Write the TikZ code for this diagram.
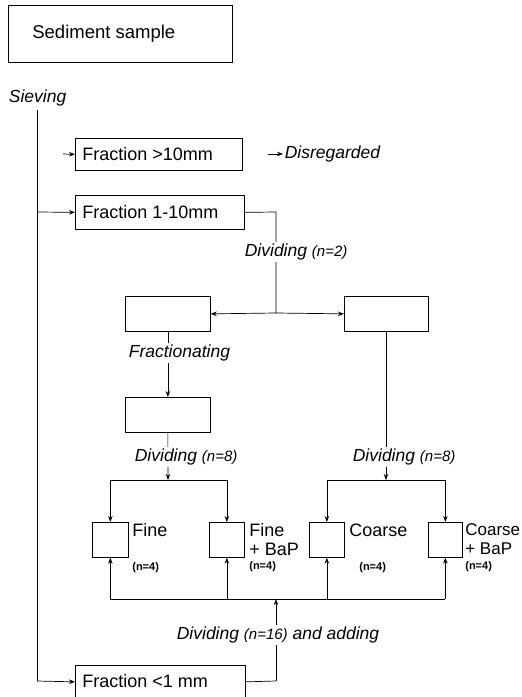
\documentclass[tikz,border=0pt]{standalone}
\usepackage{fontspec}
\setmainfont{Liberation Sans}
\usetikzlibrary{arrows.meta}
\newcommand\nsmallfont{\fontsize{15}{17}\selectfont}
\begin{document}
\begin{tikzpicture}[x=1pt,y=-1pt,line width=0.7pt,
  box/.style={draw,inner sep=0,anchor=north west},
  lbl/.style={font=\fontsize{18}{21}\selectfont,anchor=west,inner sep=0},
  itl/.style={font=\fontsize{17.5}{21}\selectfont\itshape,anchor=west,fill=white,inner sep=1.5pt},
  sml/.style={font=\fontsize{11}{12}\selectfont\bfseries,anchor=west,inner sep=0},
  arr/.style={-{Stealth[length=6pt,width=4.5pt]}}]
\useasboundingbox (0,0) rectangle (522,697);
% top
\node[box,minimum width=224pt,minimum height=57pt] (sed) at (8,5) {};
\node[lbl,font=\fontsize{18.5}{21}\selectfont] (sedt) at (32,34) {Sediment sample};
\node[itl,fill=none] (siev) at (7,98) {Sieving};
% fractions
\node[box,minimum width=167pt,minimum height=32pt] (f10) at (75,138) {};
\node[lbl] (f10t) at (82,154) {Fraction >10mm};
\coordinate (f10s) at (63,154);
\draw[arr] (f10s) -- (f10.west);
\coordinate (dis) at (268,154);
\node[itl,fill=none] (dist) at (283,154) {Disregarded};
\draw[arr] (dis) -- (dist.west);
\node[box,minimum width=169pt,minimum height=34pt] (f110) at (75,195) {};
\node[lbl] (f110t) at (82,212) {Fraction 1-10mm};
\node[box,minimum width=170pt,minimum height=33pt] (f1) at (75,665) {};
\node[lbl] (f1t) at (82,681) {Fraction <1 mm};
% sieving line
\coordinate (s0) at (37,110);
\coordinate (s1) at (37,212);
\coordinate (s2) at (37,681);
\draw (s0) -- (s2);
\draw[arr] (s1) -- (f110.west);
\draw[arr] (s2) -- (f1.west);
% first dividing
\node[box,minimum width=85pt,minimum height=35pt] (l1) at (125,296) {};
\node[box,minimum width=84pt,minimum height=35pt] (r1) at (344,296) {};
\coordinate (d2a) at (276,212);
\coordinate (d2b) at (276,313);
\draw (f110.east) -- (d2a) -- (d2b);
\draw[arr] (d2b) -- (l1.east);
\draw[arr] (d2b) -- (r1.west);
\node[itl] (d2t) at (243,252) {Dividing {\nsmallfont(n=2)}};
% fractionating
\node[box,minimum width=85pt,minimum height=35pt] (l2) at (125,397) {};
\draw[arr] (l1.south) -- (l2.north);
\node[itl] (frt) at (127,353) {Fractionating};
% sub-samples
\node[box,minimum width=36pt,minimum height=35pt] (fb1) at (92,522) {};
\node[box,minimum width=35pt,minimum height=35pt] (fb2) at (209,522) {};
\node[box,minimum width=35pt,minimum height=35pt] (cb1) at (309,522) {};
\node[box,minimum width=34pt,minimum height=35pt] (cb2) at (428,522) {};
% left dividing n=8
\coordinate (dl) at (168,480);
\coordinate (dlA) at (fb1.north |- dl);
\coordinate (dlB) at (fb2.north |- dl);
\draw[arr] (l2.south) -- (dl);
\draw (dlA) -- (dlB);
\draw[arr] (dlA) -- (fb1.north);
\draw[arr] (dlB) -- (fb2.north);
\node[itl] (d8l) at (133,457) {Dividing {\nsmallfont(n=8)}};
% right dividing n=8
\coordinate (r1s) at (386,331);
\coordinate (dr) at (386,480);
\coordinate (drA) at (cb1.north |- dr);
\coordinate (drB) at (cb2.north |- dr);
\draw[arr] (r1s) -- (dr);
\draw (drA) -- (drB);
\draw[arr] (drA) -- (cb1.north);
\draw[arr] (drB) -- (cb2.north);
\node[itl] (d8r) at (351,457) {Dividing {\nsmallfont(n=8)}};
% labels
\node[lbl] (fine1) at (132,530) {Fine};
\node[sml] (n1) at (132,568) {(n=4)};
\node[lbl] (fine2) at (249,530) {Fine};
\node[lbl] (bap1) at (249,549) {+ BaP};
\node[sml] (n2) at (249,567) {(n=4)};
\node[lbl] (coa1) at (349,530) {Coarse};
\node[sml] (n3) at (359,568) {(n=4)};
\node[lbl,font=\fontsize{17}{20}\selectfont] (coa2) at (465,530) {Coarse};
\node[lbl,font=\fontsize{17}{20}\selectfont] (bap2) at (465,549) {+ BaP};
\node[sml] (n4) at (465,567) {(n=4)};
% bottom distribution
\coordinate (b0) at (276,599);
\coordinate (bA) at (fb1.south |- b0);
\coordinate (bD) at (cb2.south |- b0);
\draw (bA) -- (bD);
\draw[arr] (bA) -- (fb1.south);
\draw[arr] (fb2.south |- b0) -- (fb2.south);
\draw[arr] (cb1.south |- b0) -- (cb1.south);
\draw[arr] (bD) -- (cb2.south);
\coordinate (b1) at (276,681);
\draw (f1.east) -- (b1);
\draw[arr] (b1) -- (b0);
\node[itl] (d16) at (175,635) {Dividing {\nsmallfont(n=16)} and adding};
\end{tikzpicture}
\end{document}
